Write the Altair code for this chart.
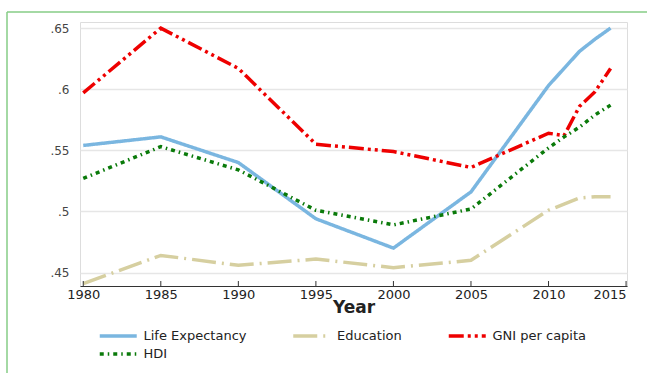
import altair as alt
import pandas as pd

YEARS = [1980, 1985, 1990, 1995, 2000, 2005, 2010, 2011, 2012, 2013, 2014]
LIFE = [0.554, 0.561, 0.540, 0.494, 0.470, 0.516, 0.603, 0.617, 0.631, 0.641, 0.650]
EDU = [0.441, 0.464, 0.456, 0.461, 0.454, 0.460, 0.501, 0.506, 0.511, 0.512, 0.512]
GNI = [0.597, 0.650, 0.617, 0.555, 0.549, 0.536, 0.564, 0.562, 0.586, 0.598, 0.617]
HDI = [0.527, 0.553, 0.534, 0.501, 0.489, 0.502, 0.552, 0.561, 0.569, 0.579, 0.587]

SERIES = ["Life Expectancy", "Education", "GNI per capita", "HDI"]
COLORS = ["#7ab6e0", "#d6cfa0", "#ee0000", "#0a7a0a"]
DASHES = [[1, 0], [24, 6, 2, 6], [15, 4, 3, 4, 3, 4], [4, 4, 1.5, 4]]
WIDTHS = [3.5, 3.5, 4.5, 4]
XTICKS = [1980, 1985, 1990, 1995, 2000, 2005, 2010, 2015]
YTICKS = [0.45, 0.5, 0.55, 0.6, 0.65]

rows = []
for name, vals in zip(SERIES, [LIFE, EDU, GNI, HDI]):
    for yr, v in zip(YEARS, vals):
        rows.append({"Year": yr, "value": v, "series": name})
df = pd.DataFrame(rows)

W, H = 547, 264
FONT = "DejaVu Sans"

xscale = alt.Scale(domain=[1979.79, 2015.06], nice=False, zero=False)
yscale = alt.Scale(domain=[0.439, 0.655], nice=False, zero=False)


def make_legend():
    return alt.Legend(title=None, orient="none", direction="horizontal",
                      legendX=18, legendY=303, columns=3, columnPadding=38.5,
                      rowPadding=-4, symbolType="M-1,0H3", symbolSize=342,
                      symbolStrokeWidth=3.5, labelFont=FONT, labelFontSize=13,
                      labelColor="#222222", labelOffset=23.5)


lines = alt.Chart(df).mark_line(clip=False).encode(
    x=alt.X("Year:Q", scale=xscale,
            axis=alt.Axis(values=XTICKS, format="d", ticks=False, grid=False,
                          domainColor="#333333", domainWidth=1.2,
                          labelFont=FONT, labelFontSize=13, labelColor="#222222",
                          labelPadding=2, title="Year", titleFont=FONT,
                          titleFontSize=17, titleFontWeight="bold", titleColor="#222222",
                          titleBaseline="middle", titleY=21)),
    y=alt.Y("value:Q", scale=yscale,
            axis=alt.Axis(values=YTICKS, labelExpr="slice(format(datum.value, '.2~f'), 1)",
                          ticks=False, domain=False, grid=True, gridColor="#e6e6e6",
                          gridWidth=1.5, labelFont=FONT, labelFontSize=12,
                          labelColor="#444444", labelPadding=11, title=None)),
    color=alt.Color("series:N", scale=alt.Scale(domain=SERIES, range=COLORS),
                    sort=SERIES, legend=make_legend()),
    strokeDash=alt.StrokeDash("series:N", scale=alt.Scale(domain=SERIES, range=DASHES),
                              sort=SERIES, legend=make_legend()),
    strokeWidth=alt.StrokeWidth("series:N", scale=alt.Scale(domain=SERIES, range=WIDTHS),
                                legend=None),
    order=alt.Order("Year:Q"),
)

tick_df = pd.DataFrame({"t": XTICKS})
ticks = alt.Chart(tick_df).mark_rule(color="#333333", strokeWidth=1).encode(
    x=alt.X("t:Q", scale=xscale),
    y=alt.value(H - 5),
    y2=alt.value(H),
)

frame_data = alt.Data(values=[{"a": 1}])
frame_top = alt.Chart(frame_data).mark_rule(color="#86cc86", strokeWidth=1.5).encode(
    x=alt.value(-73), x2=alt.value(567), y=alt.value(-10))
frame_left = alt.Chart(frame_data).mark_rule(color="#86cc86", strokeWidth=1.5).encode(
    x=alt.value(-73), y=alt.value(-10), y2=alt.value(351))

chart = alt.layer(lines, ticks, frame_top, frame_left).properties(
    width=W, height=H,
    autosize=alt.AutoSizeParams(type="none"),
    padding={"left": 80, "top": 22, "right": 20, "bottom": 87},
).configure_view(stroke=None).configure(background="white")

chart.save("out.html", embed_options={"renderer": "svg", "actions": False})
